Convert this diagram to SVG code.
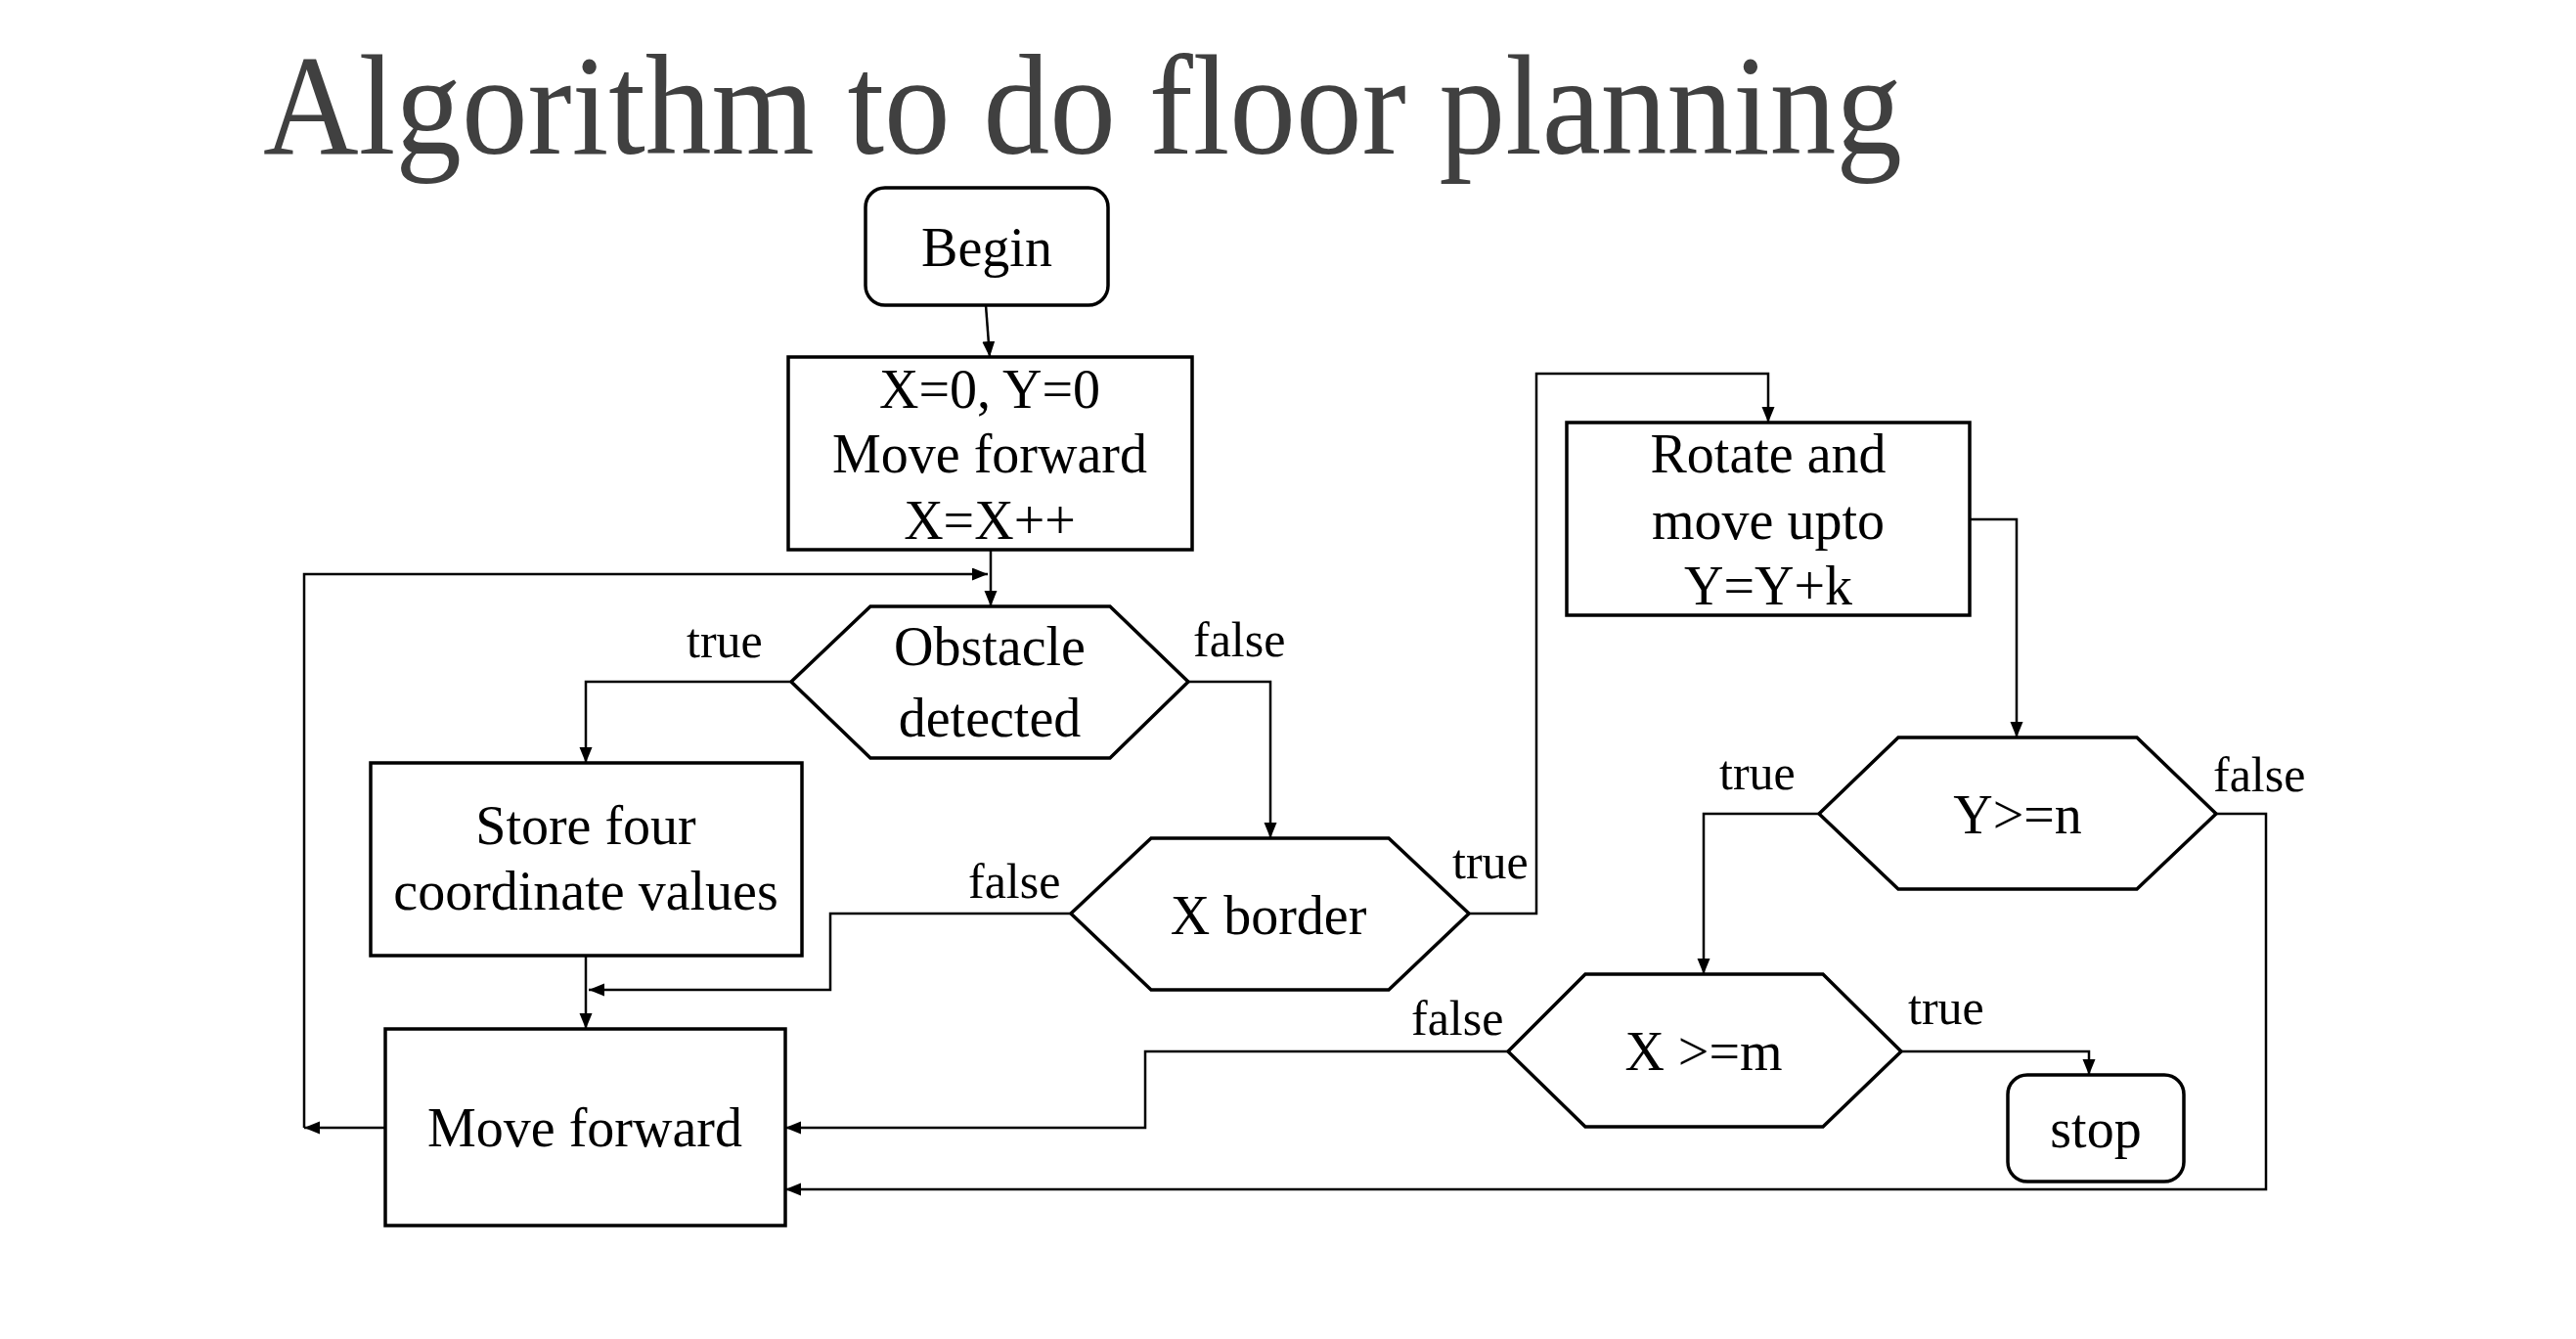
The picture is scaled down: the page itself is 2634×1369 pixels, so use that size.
<svg xmlns="http://www.w3.org/2000/svg" width="2634" height="1369" viewBox="0 0 2634 1369">
<style>
.node{fill:#ffffff;stroke:#000000;stroke-width:3.5}
.t{font-family:"Liberation Serif","Times New Roman",serif;font-size:56px;fill:#000000;text-anchor:middle}
.lbl{font-family:"Liberation Serif","Times New Roman",serif;font-size:50px;fill:#000000}
.c{fill:none;stroke:#000000;stroke-width:2.5;marker-end:url(#arr)}
</style>
<defs>
<marker id="arr" markerUnits="userSpaceOnUse" markerWidth="18" markerHeight="14" refX="16" refY="6.5" orient="auto">
<path d="M0,0 L16,6.5 L0,13 z" fill="#000000"/>
</marker>
</defs>
<rect width="2634" height="1369" fill="#ffffff"/>
<text x="269" y="157" font-family="Liberation Serif, Times New Roman, serif" font-size="146" fill="#404040" textLength="1676" lengthAdjust="spacingAndGlyphs">Algorithm to do floor planning</text>

<g id="connectors">
<path class="c" d="M1008,312 L1012,365"/>
<path class="c" d="M1013,562 V620"/>
<path class="c" d="M394,1153 H311"/>
<path class="c" d="M311,1153 V587 H1010"/>
<path class="c" d="M809,697 H599 V780"/>
<path class="c" d="M1215,697 H1299 V857"/>
<path class="c" d="M599,977 V1052"/>
<path class="c" d="M1095,934 H849 V1012 H602"/>
<path class="c" d="M1502,934 H1571 V382 H1808 V432"/>
<path class="c" d="M2014,531 H2062 V754"/>
<path class="c" d="M1860,832 H1742 V996"/>
<path class="c" d="M2266,832 H2317 V1216 H803"/>
<path class="c" d="M1944,1075 H2136 V1099"/>
<path class="c" d="M1542,1075 H1171 V1153 H803"/>
</g>

<g id="labels">
<text class="lbl" x="702" y="672">true</text>
<text class="lbl" x="1220" y="671">false</text>
<text class="lbl" x="990" y="918">false</text>
<text class="lbl" x="1485" y="898">true</text>
<text class="lbl" x="1758" y="807">true</text>
<text class="lbl" x="2263" y="809">false</text>
<text class="lbl" x="1443" y="1058">false</text>
<text class="lbl" x="1951" y="1047">true</text>
</g>

<g id="begin">
<rect class="node" x="885" y="192" width="248" height="120" rx="20"/>
<text class="t" x="1009" y="272">Begin</text>
</g>

<g id="init">
<rect class="node" x="806" y="365" width="413" height="197"/>
<text class="t" x="1012" y="417">X=0, Y=0</text>
<text class="t" x="1012" y="483">Move forward</text>
<text class="t" x="1012" y="551">X=X++</text>
</g>

<g id="obstacle">
<polygon class="node" points="809,697 890,620 1135,620 1215,697 1135,775 890,775"/>
<text class="t" x="1012" y="680">Obstacle</text>
<text class="t" x="1012" y="753">detected</text>
</g>

<g id="store">
<rect class="node" x="379" y="780" width="441" height="197"/>
<text class="t" x="599" y="863">Store four</text>
<text class="t" x="599" y="930">coordinate values</text>
</g>

<g id="xborder">
<polygon class="node" points="1095,934 1177,857 1420,857 1502,934 1420,1012 1177,1012"/>
<text class="t" x="1297" y="955">X border</text>
</g>

<g id="moveforward">
<rect class="node" x="394" y="1052" width="409" height="201"/>
<text class="t" x="598" y="1172">Move forward</text>
</g>

<g id="rotate">
<rect class="node" x="1602" y="432" width="412" height="197"/>
<text class="t" x="1808" y="483">Rotate and</text>
<text class="t" x="1808" y="551">move upto</text>
<text class="t" x="1808" y="618">Y=Y+k</text>
</g>

<g id="ycheck">
<polygon class="node" points="1860,832 1941,754 2185,754 2266,832 2185,909 1941,909"/>
<text class="t" x="2063" y="852">Y&gt;=n</text>
</g>

<g id="xcheck">
<polygon class="node" points="1542,1075 1621,996 1864,996 1944,1075 1864,1152 1621,1152"/>
<text class="t" x="1742" y="1094">X &gt;=m</text>
</g>

<g id="stop">
<rect class="node" x="2053" y="1099" width="180" height="109" rx="20"/>
<text class="t" x="2143" y="1173">stop</text>
</g>
</svg>
